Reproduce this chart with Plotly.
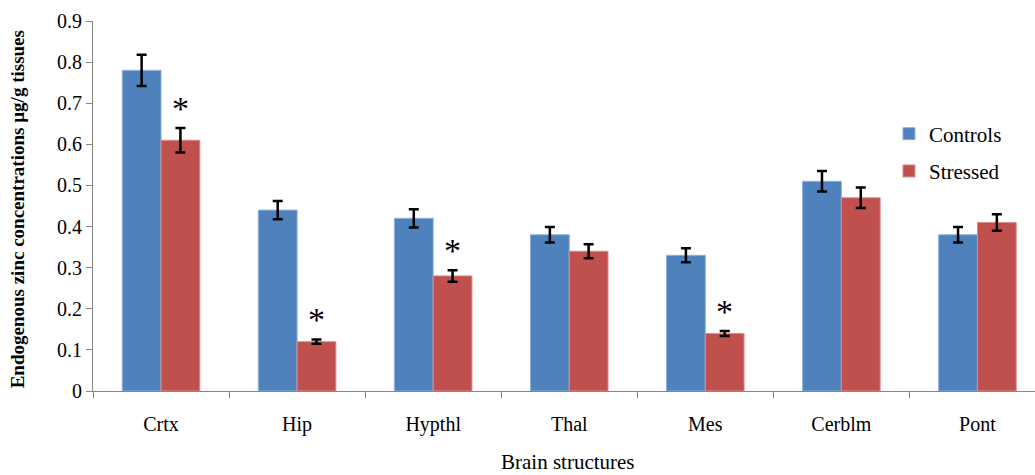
import plotly.graph_objects as go

structures = ["Crtx", "Hip", "Hypthl", "Thal", "Mes", "Cerblm", "Pont"]
controls = [0.78, 0.44, 0.42, 0.38, 0.33, 0.51, 0.38]
controls_err = [0.038, 0.022, 0.022, 0.019, 0.017, 0.025, 0.019]
stressed = [0.61, 0.12, 0.28, 0.34, 0.14, 0.47, 0.41]
stressed_err = [0.030, 0.005, 0.014, 0.017, 0.006, 0.025, 0.020]
significant = [True, True, True, False, True, False, False]

serif = "Liberation Serif"

fig = go.Figure()
fig.add_trace(go.Bar(
    name="Controls", x=structures, y=controls, legendgroup="c",
    marker=dict(color="#4F81BD", line=dict(color="#8EB0DA", width=1)),
    error_y=dict(type="data", array=controls_err, color="black", thickness=2.5, width=5),
))
fig.add_trace(go.Bar(
    name="Stressed", x=structures, y=stressed, legendgroup="s",
    marker=dict(color="#C0504D", line=dict(color="#DA8E8C", width=1)),
    error_y=dict(type="data", array=stressed_err, color="black", thickness=2.5, width=5),
))

# significance markers above the stressed bars
for i, (name, v, e, sig) in enumerate(zip(structures, stressed, stressed_err, significant)):
    if sig:
        fig.add_annotation(
            x=i + 0.143, y=v + e - 0.002, xref="x", yref="y", text="*",
            showarrow=False, yanchor="bottom",
            font=dict(family=serif, size=34, color="black"),
        )

fig.add_annotation(
    text="<b>Endogenous zinc concentrations µg/g tissues</b>",
    xref="paper", yref="paper", x=-0.08, y=0.49, xanchor="center", textangle=-90,
    showarrow=False, font=dict(family=serif, size=19, color="black"),
)
fig.add_annotation(
    text="Brain structures", xref="paper", yref="paper", x=0.504, y=-0.192,
    showarrow=False, yanchor="middle", font=dict(family=serif, size=21, color="black"),
)

fig.update_layout(
    width=1035, height=475,
    margin=dict(l=93, r=0, t=21, b=84),
    paper_bgcolor="white", plot_bgcolor="white",
    barmode="group", bargap=0.43, bargroupgap=0,
    font=dict(family=serif, size=20, color="black"),
    legend=dict(
        x=0.845, y=0.75, xanchor="left", yanchor="top",
        font=dict(family=serif, size=21, color="black"),
        tracegroupgap=7, bgcolor="rgba(0,0,0,0)",
    ),
    showlegend=True,
)
fig.update_xaxes(
    range=[-0.5, 6.423], showline=True, linecolor="#868686", linewidth=1,
    ticks="outside", tickson="boundaries", ticklen=6, tickcolor="#868686",
    ticklabelstandoff=15, tickfont=dict(family=serif, size=20, color="black"),
    showgrid=False,
)
fig.update_yaxes(
    range=[0, 0.9], showline=True,
    linecolor="#868686", linewidth=1, ticks="outside", ticklen=6,
    tickcolor="#868686", showgrid=False, zeroline=False,
    tickfont=dict(family=serif, size=20, color="black"),
    tickvals=[0, 0.1, 0.2, 0.3, 0.4, 0.5, 0.6, 0.7, 0.8, 0.9],
    ticktext=["0", "0.1", "0.2", "0.3", "0.4", "0.5", "0.6", "0.7", "0.8", "0.9"],
)

fig.write_html("out.html")
